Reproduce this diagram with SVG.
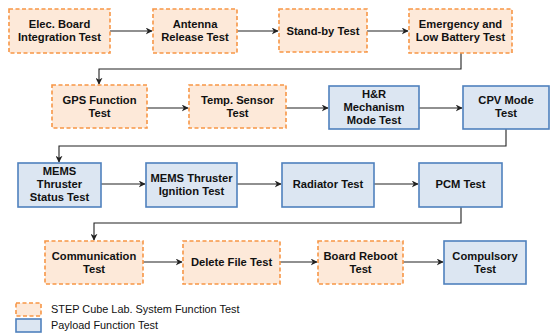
<svg xmlns="http://www.w3.org/2000/svg" width="552" height="333" viewBox="0 0 552 333">
<style>
.o{fill:#fde9d9;stroke:#f79646;stroke-width:1.6;stroke-dasharray:4,2.5}
.b{fill:#dce6f2;stroke:#4f81bd;stroke-width:1.6}
.t{font-family:"Liberation Sans",Arial,sans-serif;font-weight:bold;font-size:11.2px;fill:#111;text-anchor:middle}
.l{font-family:"Liberation Sans",Arial,sans-serif;font-size:10.9px;fill:#111}
.c{fill:none;stroke:#222;stroke-width:1.1;marker-end:url(#a)}
</style>
<defs>
<marker id="a" viewBox="0 0 10 10" refX="9" refY="5" markerWidth="7" markerHeight="7" markerUnits="userSpaceOnUse" orient="auto">
<path d="M0,0 L10,5 L0,10 L3,5 Z" fill="#222"/>
</marker>
</defs>
<g id="connectors">
<path class="c" d="M110,31 H152"/>
<path class="c" d="M237,31 H278"/>
<path class="c" d="M367,31 H408"/>
<path class="c" d="M461,53 V69 H99 V84"/>
<path class="c" d="M147,108 H188"/>
<path class="c" d="M286,108 H328"/>
<path class="c" d="M419,108 H462"/>
<path class="c" d="M506,129 V146 H59 V162"/>
<path class="c" d="M101,184 H145"/>
<path class="c" d="M237,184 H281"/>
<path class="c" d="M374,184 H418"/>
<path class="c" d="M461,207 V223 H94 V240"/>
<path class="c" d="M143,262 H182"/>
<path class="c" d="M280,262 H317"/>
<path class="c" d="M403,262 H443"/>
</g>
<g id="n1"><rect class="o" x="9" y="9" width="101" height="44"/><text class="t" x="59.5" y="28">Elec. Board</text><text class="t" x="59.5" y="41">Integration Test</text></g>
<g id="n2"><rect class="o" x="153" y="9" width="84" height="44"/><text class="t" x="195" y="28">Antenna</text><text class="t" x="195" y="41">Release Test</text></g>
<g id="n3"><rect class="o" x="279" y="9" width="88" height="43"/><text class="t" x="323" y="35">Stand-by Test</text></g>
<g id="n4"><rect class="o" x="409" y="9" width="103" height="44"/><text class="t" x="460.5" y="28">Emergency and</text><text class="t" x="460.5" y="41">Low Battery Test</text></g>
<g id="n5"><rect class="o" x="52" y="85" width="95" height="43"/><text class="t" x="99.5" y="104">GPS Function</text><text class="t" x="99.5" y="117">Test</text></g>
<g id="n6"><rect class="o" x="189" y="85" width="97" height="43"/><text class="t" x="237.5" y="104">Temp. Sensor</text><text class="t" x="237.5" y="117">Test</text></g>
<g id="n7"><rect class="b" x="329" y="86" width="90" height="43"/><text class="t" x="374" y="98">H&amp;R</text><text class="t" x="374" y="111">Mechanism</text><text class="t" x="374" y="124">Mode Test</text></g>
<g id="n8"><rect class="b" x="463" y="86" width="86" height="43"/><text class="t" x="506" y="104">CPV Mode</text><text class="t" x="506" y="117">Test</text></g>
<g id="n9"><rect class="b" x="18" y="163" width="83" height="44"/><text class="t" x="59.5" y="175">MEMS</text><text class="t" x="59.5" y="188">Thruster</text><text class="t" x="59.5" y="201">Status Test</text></g>
<g id="n10"><rect class="b" x="146" y="163" width="91" height="44"/><text class="t" x="191.5" y="182">MEMS Thruster</text><text class="t" x="191.5" y="195">Ignition Test</text></g>
<g id="n11"><rect class="b" x="282" y="163" width="92" height="44"/><text class="t" x="328" y="188">Radiator Test</text></g>
<g id="n12"><rect class="b" x="419" y="163" width="83" height="44"/><text class="t" x="460.5" y="188">PCM Test</text></g>
<g id="n13"><rect class="o" x="45" y="241" width="98" height="43"/><text class="t" x="94" y="260">Communication</text><text class="t" x="94" y="273">Test</text></g>
<g id="n14"><rect class="o" x="183" y="241" width="97" height="43"/><text class="t" x="231.5" y="266">Delete File Test</text></g>
<g id="n15"><rect class="o" x="318" y="241" width="85" height="43"/><text class="t" x="360.5" y="260">Board Reboot</text><text class="t" x="360.5" y="273">Test</text></g>
<g id="n16"><rect class="b" x="444" y="241" width="82" height="43"/><text class="t" x="485" y="260">Compulsory</text><text class="t" x="485" y="273">Test</text></g>
<g id="legend">
<rect class="o" x="16" y="303" width="25" height="13"/>
<text class="l" x="51" y="313">STEP Cube Lab. System Function Test</text>
<rect class="b" x="16" y="319" width="25" height="13"/>
<text class="l" x="51" y="329">Payload Function Test</text>
</g>
</svg>
